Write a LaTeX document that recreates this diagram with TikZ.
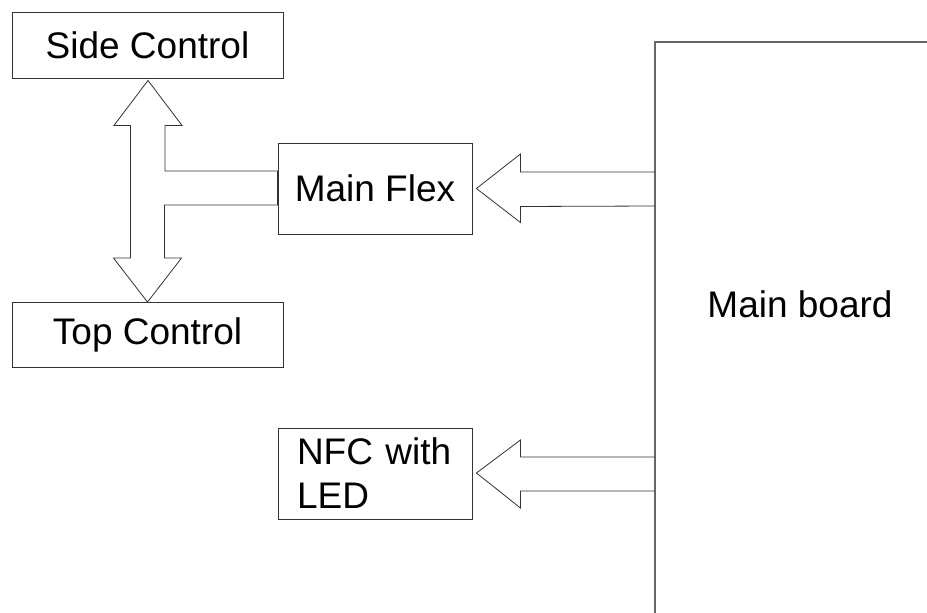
\documentclass[tikz,border=0pt]{standalone}
\usepackage{fontspec}
\setmainfont{Liberation Sans}
\usetikzlibrary{calc}
\begin{document}
\begin{tikzpicture}[x=1pt,y=-1pt,
  box/.style={draw=black!80,line width=0.9pt,fill=white,inner sep=0pt,
    font=\fontsize{37}{44}\selectfont},
  flow/.style={draw=black!80,line width=0.8pt,line join=miter},
  board/.style={draw=black!60,line width=2pt},
  label/.style={font=\fontsize{37}{44}\selectfont,inner sep=0pt}]
\useasboundingbox (0,0) rectangle (927,613);

% boxes
\node[box,minimum width=271,minimum height=66] (side) at (147.5,45) {Side Control};
\node[box,minimum width=271,minimum height=65] (top) at (147.5,335) {Top Control};
\node[box,minimum width=194,minimum height=91] (flex) at (375,188.5) {Main Flex};
\node[box,minimum height=91,text width=156,inner xsep=19pt,align=left] (nfc) at (375,473.5) {NFC with\\LED};

% main board outline
\coordinate (mbtl) at (655,42);
\coordinate (mbtr) at (927,42);
\coordinate (mbbl) at (655,613);
\draw[board] (mbtr) -- (mbtl) -- (mbbl);
\node[label] (mb) at (800,304) {Main board};

% double arrow between the two controls, tapped by the main flex
\coordinate (dtop) at ($(side.south)+(0.5,2)$);
\coordinate (dbot) at (top.north);
\draw[flow] (dtop) -- ++(34,45) -- ++(-17,0) |- ($(flex.west)+(0,-17.5)$)
  -- ($(flex.west)+(0,16.5)$) -| ($(dbot)+(17,-44)$) -- ++(17,0)
  -- (dbot) -- ++(-34,-44) -- ++(17,0) |- ($(dtop)+(-34,45)$) -- cycle;

% arrow from main board to main flex
\coordinate (ftip) at ($(flex.east)+(4,0)$);
\draw[flow] (ftip |- 0,172) ++(44,0) coordinate (fa)
  (mbtl |- fa) -- (fa) -- ++(0,-18) -- (ftip) -- ++(44,34) -- ++(0,-16) -- (mbtl |- 0,206);

% arrow from main board to NFC
\coordinate (ntip) at ($(nfc.east)+(4,-0.5)$);
\draw[flow] (ntip |- 0,457) ++(44,0) coordinate (na)
  (mbtl |- na) -- (na) -- ++(0,-17) -- (ntip) -- ++(44,35) -- ++(0,-17) -- (mbtl |- 0,491);
\end{tikzpicture}
\end{document}
